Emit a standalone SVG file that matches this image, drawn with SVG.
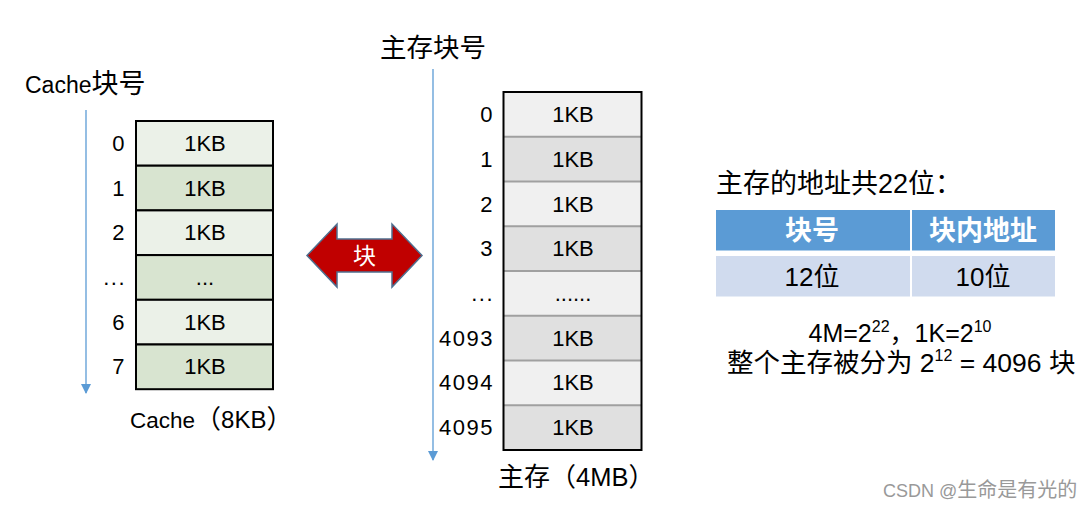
<svg xmlns="http://www.w3.org/2000/svg" width="1087" height="509" viewBox="0 0 1087 509">
<style>
text{font-family:"Liberation Sans","Noto Sans CJK SC",sans-serif;fill:#000}
.c{font-size:22px;text-anchor:middle}
.idx{font-size:22px;text-anchor:end;letter-spacing:1.5px}
.gl{fill:#EBF1E8;stroke:#000;stroke-width:2}
.gd{fill:#D8E4D0;stroke:#000;stroke-width:2}
.ml{fill:#F0F0F0}
.md{fill:#E0E0E0}
.sep{stroke:#A0A0A0;stroke-width:2}
.ax{stroke:#5B9BD5;stroke-width:1.3;fill:none}
.sup{font-size:16px}
</style>
<defs>
<marker id="ah" markerWidth="10" markerHeight="10" refX="9" refY="5" orient="auto" markerUnits="userSpaceOnUse">
<path d="M0,0 L10,5 L0,10 Z" fill="#5B9BD5"/>
</marker>
</defs>
<rect width="1087" height="509" fill="#fff"/>

<g id="connectors">
<line class="ax" x1="86" y1="110" x2="86" y2="393" marker-end="url(#ah)"/>
<line class="ax" x1="433" y1="69" x2="433" y2="460" marker-end="url(#ah)"/>
</g>

<g id="cache-title"><text x="25" y="93" font-size="23">Cache<tspan font-size="27">块号</tspan></text></g>

<g id="cache">
<rect class="gl" x="136" y="121" width="137" height="44.7"/>
<rect class="gd" x="136" y="165.7" width="137" height="44.7"/>
<rect class="gl" x="136" y="210.4" width="137" height="44.7"/>
<rect class="gd" x="136" y="255.1" width="137" height="44.7"/>
<rect class="gl" x="136" y="299.8" width="137" height="44.7"/>
<rect class="gd" x="136" y="344.5" width="137" height="44.7"/>
<text class="c" x="205" y="151">1KB</text>
<text class="c" x="205" y="196">1KB</text>
<text class="c" x="205" y="240">1KB</text>
<text class="c" x="205" y="285">...</text>
<text class="c" x="205" y="330">1KB</text>
<text class="c" x="205" y="374">1KB</text>
<text class="idx" x="126" y="151">0</text>
<text class="idx" x="126" y="196">1</text>
<text class="idx" x="126" y="240">2</text>
<text class="idx" x="126" y="285">...</text>
<text class="idx" x="126" y="330">6</text>
<text class="idx" x="126" y="374">7</text>
</g>
<g id="cache-caption"><text x="130" y="428" font-size="22.5">Cache<tspan font-size="26">（</tspan><tspan font-size="24">8KB</tspan><tspan font-size="26">）</tspan></text></g>

<g id="block-arrow">
<path d="M307,255.5 L337,224 L337,239 L392,239 L392,224 L422,255.5 L392,287 L392,272 L337,272 L337,287 Z" fill="#C00000" stroke="#4F6F8F" stroke-width="1.5"/>
<text x="364.5" y="264" font-size="23" text-anchor="middle" style="fill:#fff">块</text>
</g>

<g id="mem-title"><text x="380" y="57" font-size="26.5">主存块号</text></g>

<g id="memory">
<rect class="ml" x="503.5" y="92" width="138" height="44.75"/>
<rect class="md" x="503.5" y="136.75" width="138" height="44.75"/>
<rect class="ml" x="503.5" y="181.5" width="138" height="44.75"/>
<rect class="md" x="503.5" y="226.25" width="138" height="44.75"/>
<rect class="ml" x="503.5" y="271" width="138" height="44.75"/>
<rect class="md" x="503.5" y="315.75" width="138" height="44.75"/>
<rect class="ml" x="503.5" y="360.5" width="138" height="44.75"/>
<rect class="md" x="503.5" y="405.25" width="138" height="44.75"/>
<line class="sep" x1="503.5" y1="136.75" x2="641.5" y2="136.75"/>
<line class="sep" x1="503.5" y1="181.5" x2="641.5" y2="181.5"/>
<line class="sep" x1="503.5" y1="226.25" x2="641.5" y2="226.25"/>
<line class="sep" x1="503.5" y1="271" x2="641.5" y2="271"/>
<line class="sep" x1="503.5" y1="315.75" x2="641.5" y2="315.75"/>
<line class="sep" x1="503.5" y1="360.5" x2="641.5" y2="360.5"/>
<line class="sep" x1="503.5" y1="405.25" x2="641.5" y2="405.25"/>
<rect x="503.5" y="92" width="138" height="358" fill="none" stroke="#000" stroke-width="2"/>
<text class="c" x="573" y="122">1KB</text>
<text class="c" x="573" y="167">1KB</text>
<text class="c" x="573" y="212">1KB</text>
<text class="c" x="573" y="256">1KB</text>
<text class="c" x="573" y="301">......</text>
<text class="c" x="573" y="346">1KB</text>
<text class="c" x="573" y="390">1KB</text>
<text class="c" x="573" y="435">1KB</text>
<text class="idx" x="494" y="122">0</text>
<text class="idx" x="494" y="167">1</text>
<text class="idx" x="494" y="212">2</text>
<text class="idx" x="494" y="256">3</text>
<text class="idx" x="494" y="301">...</text>
<text class="idx" x="494" y="346">4093</text>
<text class="idx" x="494" y="390">4094</text>
<text class="idx" x="494" y="435">4095</text>
</g>
<g id="mem-caption"><text x="498" y="486" font-size="26">主存（<tspan font-size="25.5">4MB</tspan>）</text></g>

<g id="address">
<text x="716" y="193" font-size="27">主存的地址共22位：</text>
<rect x="716" y="210" width="194" height="40.5" fill="#5B9BD5"/>
<rect x="912" y="210" width="143" height="40.5" fill="#5B9BD5"/>
<rect x="716" y="256" width="194" height="40.5" fill="#D0DBEE"/>
<rect x="912" y="256" width="143" height="40.5" fill="#D0DBEE"/>
<text x="812" y="240" font-size="27" font-weight="bold" text-anchor="middle" style="fill:#fff">块号</text>
<text x="983" y="240" font-size="27" font-weight="bold" text-anchor="middle" style="fill:#fff">块内地址</text>
<text x="812" y="286" font-size="26" text-anchor="middle">12位</text>
<text x="983" y="286" font-size="26" text-anchor="middle">10位</text>
</g>

<g id="formula">
<text x="900" y="342" font-size="25" text-anchor="middle">4M=2<tspan class="sup" dy="-10">22</tspan><tspan dy="10">，1K=2</tspan><tspan class="sup" dy="-10">10</tspan></text>
<text x="727" y="372" font-size="26.5">整个主存被分为 2<tspan class="sup" dy="-11">12</tspan><tspan dy="11"> = 4096 块</tspan></text>
</g>

<g id="watermark"><text x="883" y="497" font-size="18" style="fill:#999">CSDN @<tspan font-size="20">生命是有光的</tspan></text></g>
</svg>
